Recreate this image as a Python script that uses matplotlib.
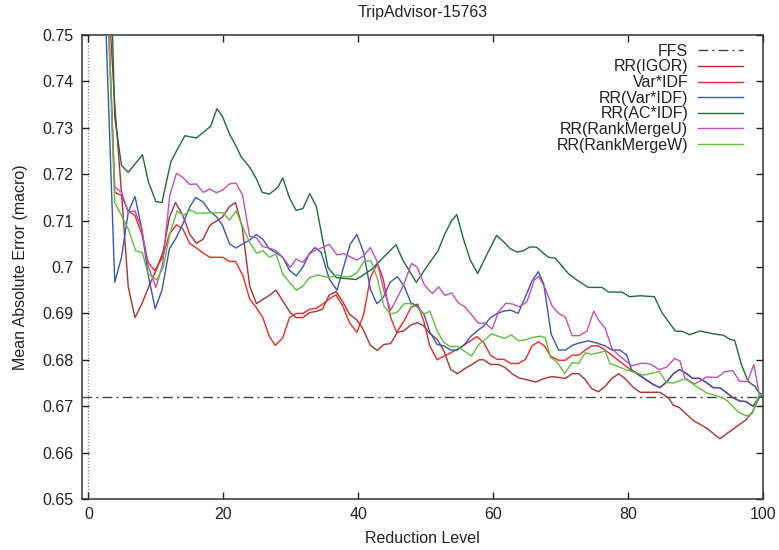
import matplotlib
matplotlib.use("Agg")
import matplotlib.pyplot as plt
from matplotlib.ticker import FuncFormatter, MultipleLocator

plt.rcParams['font.family'] = ['Liberation Sans', 'DejaVu Sans']

title = "TripAdvisor-15763"
xlabel = "Reduction Level"
ylabel = "Mean Absolute Error (macro)"

ffs_value = 0.672

igor_x = [1.9, 2.9, 3.9, 4.9, 5.9, 6.9, 7.9, 9.1, 10.1, 11.1, 12.0, 12.9, 14.0, 15.0, 16.0, 17.0, 18.0, 19.9, 20.9, 21.8, 22.8, 23.9, 24.9, 25.85, 26.8, 27.8, 28.8, 29.9, 30.8, 31.8, 32.8, 33.7, 34.7, 35.7, 36.7, 37.7, 38.7, 39.7, 40.6, 41.8, 42.8, 43.8, 44.8, 45.8, 46.7, 47.8, 48.8, 49.7, 50.6, 51.7, 52.7, 53.7, 54.7, 55.9, 56.9, 57.9, 58.6, 59.6, 60.8, 61.8, 62.8, 63.8, 65.3, 66.3, 67.6, 68.7, 70.7, 71.7, 72.7, 73.6, 74.6, 75.6, 76.6, 77.6, 78.6, 79.6, 80.8, 81.8, 84.7, 86.0, 86.7, 87.6, 88.7, 89.7, 91.6, 93.6, 95.6, 97.5, 98.5, 99.4, 100]
igor_y = [0.80, 0.76, 0.735, 0.716, 0.6957, 0.6891, 0.692, 0.6963, 0.6995, 0.7035, 0.7107, 0.7139, 0.7111, 0.7071, 0.7051, 0.706, 0.709, 0.7108, 0.713, 0.7139, 0.7085, 0.6959, 0.6921, 0.693, 0.6939, 0.695, 0.6927, 0.6902, 0.6891, 0.6891, 0.6902, 0.6904, 0.6909, 0.694, 0.6947, 0.6925, 0.6898, 0.6887, 0.6869, 0.6831, 0.682, 0.6833, 0.6835, 0.6859, 0.6862, 0.6875, 0.688, 0.6873, 0.6857, 0.6844, 0.6819, 0.6779, 0.677, 0.6782, 0.679, 0.68, 0.68, 0.679, 0.679, 0.6783, 0.677, 0.6761, 0.6756, 0.6752, 0.676, 0.6764, 0.676, 0.677, 0.677, 0.6758, 0.6738, 0.6731, 0.6743, 0.676, 0.677, 0.6759, 0.674, 0.673, 0.673, 0.6718, 0.6702, 0.6697, 0.6682, 0.6669, 0.6653, 0.663, 0.6651, 0.6671, 0.6689, 0.6718, 0.6725]

varidf_x = [1.9, 2.9, 3.9, 4.9, 5.9, 6.9, 7.9, 8.85, 9.8, 11.0, 12.0, 13.05, 14.0, 15.0, 16.0, 17.0, 18.0, 19.9, 20.9, 21.8, 22.9, 23.9, 24.9, 25.85, 26.8, 27.7, 28.8, 29.8, 30.8, 31.8, 32.8, 33.8, 34.7, 35.7, 36.7, 37.7, 38.7, 39.8, 40.8, 41.8, 42.85, 43.7, 44.8, 45.7, 46.8, 47.8, 48.8, 49.7, 50.6, 51.7, 52.7, 53.7, 54.7, 55.7, 56.65, 57.6, 58.6, 59.6, 60.6, 61.6, 62.6, 63.7, 64.8, 65.75, 66.7, 67.6, 68.5, 69.7, 70.7, 71.7, 72.7, 73.65, 74.6, 75.6, 76.6, 80.5, 83.7, 84.7, 85.7, 86.7, 87.6, 88.7, 89.55, 90.6, 91.7, 92.6, 93.6, 94.6, 95.6, 96.6, 97.5, 98.5, 99.4, 100]
varidf_y = [0.82, 0.756, 0.7161, 0.7154, 0.7121, 0.7111, 0.7071, 0.701, 0.6992, 0.7021, 0.7071, 0.7091, 0.7082, 0.7051, 0.7041, 0.703, 0.7021, 0.7021, 0.7012, 0.7012, 0.6981, 0.6931, 0.6912, 0.6891, 0.6851, 0.6831, 0.6847, 0.6891, 0.69, 0.69, 0.6909, 0.6911, 0.692, 0.6931, 0.694, 0.6916, 0.688, 0.6859, 0.6898, 0.6977, 0.7008, 0.6974, 0.6891, 0.6859, 0.6884, 0.6913, 0.692, 0.6884, 0.683, 0.68, 0.6808, 0.6815, 0.6823, 0.6832, 0.6841, 0.685, 0.6837, 0.681, 0.6801, 0.6801, 0.6792, 0.6792, 0.6801, 0.683, 0.6839, 0.683, 0.6808, 0.6799, 0.6799, 0.681, 0.681, 0.6821, 0.683, 0.683, 0.6821, 0.6777, 0.6747, 0.674, 0.6752, 0.677, 0.6779, 0.677, 0.676, 0.676, 0.675, 0.674, 0.674, 0.6729, 0.6718, 0.6711, 0.671, 0.670, 0.6718, 0.6725]

rrvar_x = [1.9, 3.9, 4.9, 5.9, 6.9, 7.9, 8.85, 9.9, 10.9, 12.0, 13.05, 14.0, 15.0, 15.9, 17.0, 18.0, 19.0, 19.9, 20.9, 21.9, 22.9, 23.9, 24.9, 25.85, 26.8, 27.8, 28.8, 29.8, 30.8, 31.8, 32.75, 33.6, 34.5, 35.7, 36.85, 37.8, 38.8, 39.8, 40.8, 41.8, 42.75, 43.7, 44.7, 45.8, 46.8, 47.8, 48.75, 49.75, 50.6, 51.7, 52.7, 53.7, 54.7, 55.7, 56.65, 57.6, 58.6, 59.6, 60.6, 61.6, 62.6, 63.7, 64.7, 65.75, 66.7, 67.5, 68.6, 69.7, 70.7, 71.7, 72.7, 74.1, 75.6, 76.6, 77.6, 78.8, 79.8, 80.5, 83.7, 84.7, 85.7, 86.7, 87.6, 88.7, 89.55, 90.6, 91.7, 92.6, 93.6, 94.6, 95.6, 96.6, 97.5, 98.5, 99.4, 100]
rrvar_y = [0.78, 0.6967, 0.7021, 0.7118, 0.7152, 0.7083, 0.6983, 0.691, 0.695, 0.7039, 0.7064, 0.7093, 0.7129, 0.715, 0.714, 0.712, 0.7108, 0.7089, 0.705, 0.7041, 0.705, 0.7058, 0.707, 0.706, 0.7039, 0.7031, 0.7021, 0.6993, 0.6981, 0.70, 0.7029, 0.7042, 0.7031, 0.6974, 0.695, 0.6999, 0.7049, 0.707, 0.7031, 0.6952, 0.6921, 0.6934, 0.6967, 0.6979, 0.6959, 0.6923, 0.6916, 0.6898, 0.686, 0.6833, 0.683, 0.6821, 0.6821, 0.6832, 0.685, 0.6862, 0.6873, 0.6891, 0.69, 0.6905, 0.6907, 0.69, 0.6933, 0.697, 0.699, 0.6963, 0.6855, 0.6821, 0.6821, 0.6831, 0.6836, 0.6841, 0.6835, 0.683, 0.6821, 0.6821, 0.681, 0.6779, 0.6747, 0.674, 0.6752, 0.677, 0.6779, 0.677, 0.676, 0.676, 0.675, 0.674, 0.674, 0.6729, 0.6718, 0.6711, 0.671, 0.670, 0.6718, 0.6725]

acidf_x = [2.9, 3.9, 4.9, 5.9, 8.0, 8.9, 10.0, 10.9, 12.2, 13.05, 14.3, 16.0, 18.1, 19.05, 19.85, 20.9, 21.9, 22.65, 23.9, 24.9, 25.75, 26.8, 28.1, 28.8, 29.8, 30.8, 31.8, 32.8, 33.8, 34.7, 35.5, 36.75, 39.7, 42.0, 44.0, 45.6, 46.6, 48.6, 50.6, 51.8, 52.8, 53.8, 54.6, 55.6, 56.6, 57.7, 59.0, 60.5, 61.5, 62.5, 63.5, 64.5, 65.4, 66.4, 67.5, 68.2, 69.2, 71.2, 72.4, 74.1, 76.1, 77.1, 79.1, 80.2, 81.8, 83.9, 85.0, 87.0, 88.1, 89.1, 90.7, 92.6, 94.1, 95.1, 95.8, 96.8, 97.8, 98.8, 99.4, 100]
acidf_y = [0.786, 0.7323, 0.7219, 0.7204, 0.7242, 0.7183, 0.7141, 0.7139, 0.7226, 0.7250, 0.7283, 0.7278, 0.7303, 0.7341, 0.7325, 0.7287, 0.726, 0.7237, 0.7215, 0.719, 0.7161, 0.7157, 0.7172, 0.7192, 0.7149, 0.7122, 0.7126, 0.7158, 0.713, 0.706, 0.6999, 0.6977, 0.6973, 0.6995, 0.7025, 0.7048, 0.7015, 0.6967, 0.701, 0.7034, 0.707, 0.7099, 0.7113, 0.706, 0.7015, 0.6986, 0.7025, 0.7068, 0.7055, 0.704, 0.7032, 0.7035, 0.7043, 0.7043, 0.7029, 0.7021, 0.7019, 0.6985, 0.6972, 0.6956, 0.6956, 0.6946, 0.6946, 0.6936, 0.6938, 0.6936, 0.6902, 0.6862, 0.6861, 0.6854, 0.6862, 0.6856, 0.6853, 0.6844, 0.6842, 0.679, 0.6753, 0.6743, 0.6729, 0.6725]

rmu_x = [1.9, 2.9, 3.9, 4.9, 5.9, 6.9, 7.9, 8.85, 10.0, 11.0, 12.05, 13.05, 14.0, 15.0, 16.0, 17.0, 18.0, 19.0, 19.9, 20.9, 21.85, 22.85, 23.9, 24.9, 25.85, 26.8, 27.8, 28.8, 29.9, 30.8, 31.8, 32.75, 33.6, 34.7, 35.7, 36.85, 37.9, 38.8, 39.8, 40.8, 41.8, 42.75, 43.8, 44.8, 45.8, 46.8, 47.9, 48.75, 49.75, 50.6, 51.0, 51.9, 52.85, 53.85, 54.8, 55.8, 56.8, 57.8, 58.8, 59.85, 60.8, 61.9, 62.9, 63.9, 65.0, 66.1, 66.75, 67.7, 68.7, 69.7, 70.7, 71.7, 72.75, 73.9, 74.9, 75.6, 76.6, 77.6, 78.6, 79.6, 80.6, 82.1, 83.25, 84.6, 85.7, 86.9, 87.7, 88.4, 89.8, 90.65, 91.65, 93.2, 94.3, 95.5, 96.5, 97.7, 98.65, 99.45, 100]
rmu_y = [0.80, 0.756, 0.7172, 0.7161, 0.7118, 0.7121, 0.7082, 0.7003, 0.6956, 0.7006, 0.7154, 0.7202, 0.7193, 0.7178, 0.7179, 0.7161, 0.7168, 0.716, 0.7166, 0.7179, 0.7181, 0.7155, 0.7066, 0.7063, 0.7044, 0.7041, 0.7035, 0.7021, 0.6999, 0.7017, 0.701, 0.7028, 0.7036, 0.7042, 0.7049, 0.7026, 0.7029, 0.7022, 0.7015, 0.7024, 0.7042, 0.7013, 0.6949, 0.6907, 0.6934, 0.6964, 0.7008, 0.6999, 0.6963, 0.6948, 0.6943, 0.6957, 0.6939, 0.6944, 0.6923, 0.6914, 0.6897, 0.6879, 0.6879, 0.6866, 0.6904, 0.6922, 0.692, 0.6914, 0.6925, 0.6972, 0.698, 0.6954, 0.6917, 0.69, 0.6892, 0.6852, 0.6852, 0.6862, 0.6905, 0.6886, 0.6868, 0.6825, 0.681, 0.6798, 0.6787, 0.6793, 0.6791, 0.6779, 0.6784, 0.6803, 0.6797, 0.6761, 0.6748, 0.6754, 0.6763, 0.6762, 0.6774, 0.6777, 0.6754, 0.6753, 0.679, 0.6725, 0.6725]

rmw_x = [1.9, 2.9, 3.9, 4.9, 5.9, 7.0, 8.0, 8.85, 10.1, 11.1, 12.05, 13.15, 14.1, 15.1, 16.1, 19.9, 20.9, 21.9, 22.9, 23.9, 24.9, 25.85, 26.8, 27.8, 28.8, 29.8, 30.8, 31.8, 32.75, 34.0, 35.7, 36.85, 37.8, 38.8, 39.8, 40.9, 41.9, 42.85, 43.8, 44.8, 45.8, 46.8, 47.8, 48.75, 49.75, 50.6, 51.7, 52.7, 53.7, 54.7, 55.7, 56.8, 57.8, 58.8, 59.75, 60.7, 61.7, 62.7, 63.7, 64.8, 65.75, 67.0, 67.7, 68.5, 69.45, 70.6, 71.7, 72.65, 73.65, 74.6, 75.6, 76.6, 77.3, 78.6, 79.6, 80.7, 82.3, 83.25, 84.6, 85.7, 86.7, 88.4, 89.7, 91.6, 93.6, 94.6, 96.3, 97.5, 98.4, 99.4, 100]
rmw_y = [0.80, 0.754, 0.7139, 0.7111, 0.7082, 0.7035, 0.7031, 0.6985, 0.6972, 0.6999, 0.7071, 0.7121, 0.7111, 0.7123, 0.7116, 0.7117, 0.7101, 0.7121, 0.7085, 0.7053, 0.703, 0.7035, 0.7021, 0.7028, 0.6985, 0.6967, 0.695, 0.6959, 0.6977, 0.6983, 0.6977, 0.6983, 0.6979, 0.6979, 0.6988, 0.7013, 0.7013, 0.6974, 0.6916, 0.6898, 0.6903, 0.6921, 0.6921, 0.6913, 0.6898, 0.6905, 0.6862, 0.6837, 0.6828, 0.6829, 0.6819, 0.6808, 0.6832, 0.6844, 0.6856, 0.6851, 0.6846, 0.6854, 0.6841, 0.6843, 0.6848, 0.6851, 0.6848, 0.6805, 0.6796, 0.677, 0.6794, 0.6792, 0.6815, 0.6812, 0.6815, 0.6819, 0.6792, 0.6785, 0.6779, 0.6774, 0.6767, 0.677, 0.6775, 0.6751, 0.675, 0.6759, 0.6747, 0.6729, 0.672, 0.6713, 0.6688, 0.6679, 0.6684, 0.6725, 0.6725]

series = [
    ("RR(IGOR)", igor_x, igor_y, "#a83232"),
    ("Var*IDF", varidf_x, varidf_y, "#f02828"),
    ("RR(Var*IDF)", rrvar_x, rrvar_y, "#3a56b2"),
    ("RR(AC*IDF)", acidf_x, acidf_y, "#1f6b38"),
    ("RR(RankMergeU)", rmu_x, rmu_y, "#c24fb6"),
    ("RR(RankMergeW)", rmw_x, rmw_y, "#5dbf3c"),
]

fig = plt.figure(figsize=(7.79, 5.5), dpi=100)
ax = fig.add_axes([81.7 / 779, 1 - 499 / 550, (763 - 81.7) / 779, (499 - 35) / 550])

ax.axvline(0, color="#888888", linestyle=(0, (1, 1.5)), linewidth=0.9, zorder=1)
ax.axhline(ffs_value, color="#444444", linestyle=(0, (7, 3, 1.5, 3)), linewidth=1.0,
           label="FFS", zorder=2)
for name, xs, ys, col in series:
    ax.plot(xs, ys, color=col, linewidth=1.0, label=name, zorder=3)

ax.set_xlim(-1, 100)
ax.set_ylim(0.65, 0.75)
ax.xaxis.set_major_locator(MultipleLocator(20))
ax.yaxis.set_major_locator(MultipleLocator(0.01))
ax.yaxis.set_major_formatter(FuncFormatter(lambda v, p: "{:g}".format(round(v, 2))))
ax.tick_params(direction="in", length=5, width=1, top=True, right=True,
               labelsize=11.5, colors="#222222", pad=6)
for s in ax.spines.values():
    s.set_linewidth(1.1)
    s.set_color("#333333")

ax.set_title(title, fontsize=11.5, pad=13, color="#222222")
ax.set_xlabel(xlabel, fontsize=11.5, labelpad=6, color="#222222")
ax.set_ylabel(ylabel, fontsize=11.5, labelpad=10, color="#222222")

leg = ax.legend(loc="upper right", bbox_to_anchor=(0.970, 0.981), frameon=False,
                markerfirst=False, fontsize=11.5, handlelength=2.8, handletextpad=0.6,
                labelspacing=0.04, borderpad=0, borderaxespad=0)
for t in leg.get_texts():
    t.set_ha("right")
    t.set_color("#222222")
leg._legend_box.align = "right"

fig.savefig("out.png", dpi=100)
